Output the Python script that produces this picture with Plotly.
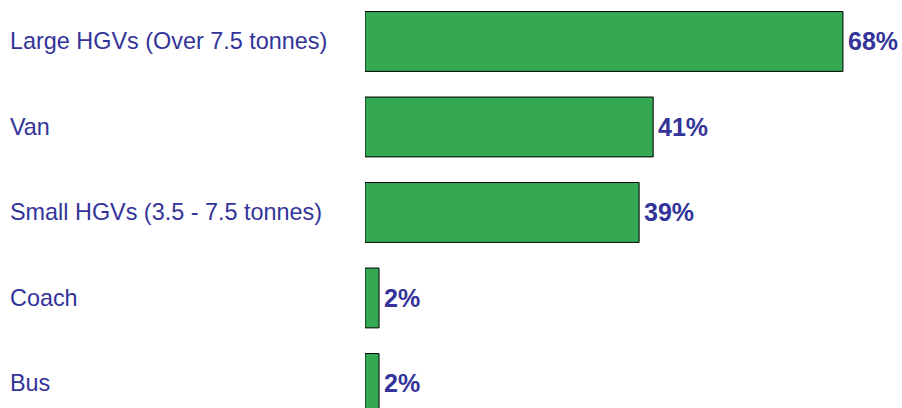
import plotly.graph_objects as go

categories = ["Large HGVs (Over 7.5 tonnes)", "Van", "Small HGVs (3.5 - 7.5 tonnes)", "Coach", "Bus"]
values = [68, 41, 39, 2, 2]
value_labels = ["68%", "41%", "39%", "2%", "2%"]

TEXT = "#333399"
GREEN = "#34a853"

fig = go.Figure()
fig.add_trace(go.Bar(
    y=list(range(len(categories))),
    x=values,
    orientation="h",
    width=0.7,
    marker=dict(color=GREEN, line=dict(color="#000000", width=1)),
    hoverinfo="skip",
))

for i, (c, v, lab) in enumerate(zip(categories, values, value_labels)):
    fig.add_annotation(
        x=0, xref="paper", xshift=-357, xanchor="left",
        y=i, yref="y", yanchor="middle",
        text=c, showarrow=False,
        font=dict(family="Liberation Sans, Arial", size=23.4, color=TEXT),
    )
    fig.add_annotation(
        x=v, xref="x", xshift=3, xanchor="left",
        y=i, yref="y", yanchor="middle",
        text="<b>" + lab + "</b>", showarrow=False,
        font=dict(family="Liberation Sans, Arial", size=25, color=TEXT),
    )

fig.update_layout(
    width=902, height=408,
    margin=dict(l=365, r=0, t=0, b=0),
    paper_bgcolor="white", plot_bgcolor="white",
    showlegend=False,
    xaxis=dict(range=[0, 76.4], visible=False),
    yaxis=dict(range=[4.287, -0.485], visible=False),
)

fig.write_html("out.html", config={"displayModeBar": False},
               post_script="document.body.style.margin='0';document.body.style.overflow='hidden';")
